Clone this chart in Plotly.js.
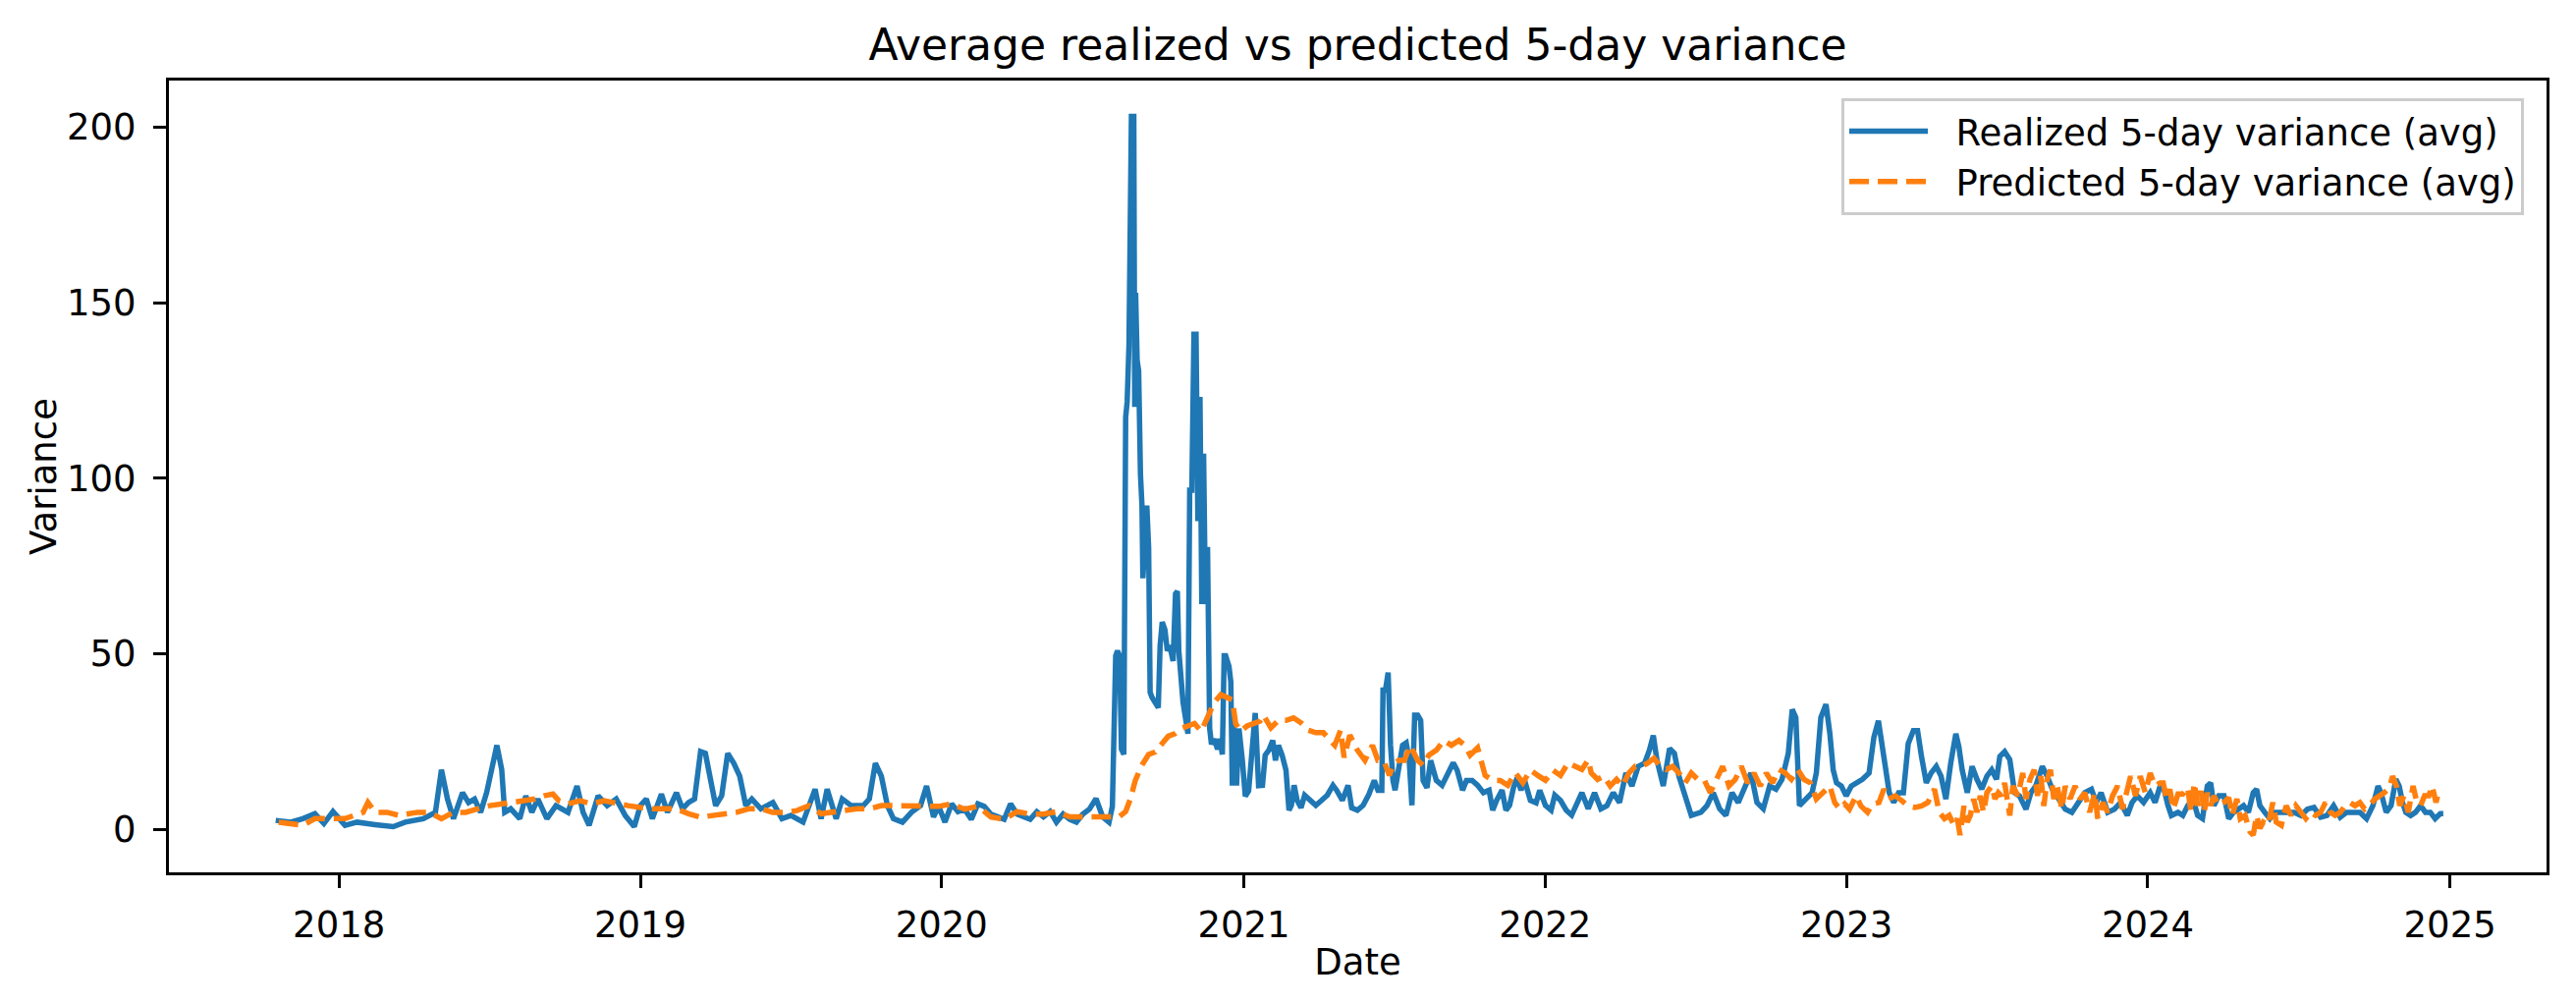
<!DOCTYPE html>
<html>
<head>
<meta charset="utf-8">
<script src="https://cdn.plot.ly/plotly-3.0.1.min.js"></script>
<style>
  html, body { margin: 0; padding: 0; background: #ffffff; }
  #chart { width: 2623px; height: 1021px; }
</style>
</head>
<body>
<div id="chart"></div>
<script>
let realizedYear = [
  2017.790, 2017.84, 2017.88, 2017.92, 2017.95, 2017.98, 2018.02, 2018.06, 2018.12, 2018.18,
  2018.22, 2018.28, 2018.32, 2018.34, 2018.36, 2018.38, 2018.41, 2018.43, 2018.45, 2018.47,
  2018.49, 2018.51, 2018.524, 2018.54, 2018.55, 2018.57, 2018.60, 2018.62, 2018.64, 2018.66,
  2018.69, 2018.72, 2018.76, 2018.79, 2018.81, 2018.83, 2018.86, 2018.89, 2018.92, 2018.95,
  2018.98, 2019.00, 2019.02, 2019.04, 2019.07, 2019.09, 2019.12, 2019.14, 2019.16, 2019.18,
  2019.20, 2019.216, 2019.23, 2019.25, 2019.27, 2019.29, 2019.31, 2019.33, 2019.35, 2019.37,
  2019.40, 2019.44, 2019.47, 2019.50, 2019.54, 2019.58, 2019.60, 2019.62, 2019.65, 2019.67,
  2019.70, 2019.74, 2019.76, 2019.78, 2019.80, 2019.82, 2019.84, 2019.87, 2019.90, 2019.93,
  2019.95, 2019.973, 2019.99, 2020.011, 2020.033, 2020.054, 2020.076, 2020.098, 2020.120, 2020.141,
  2020.163, 2020.185, 2020.207, 2020.228, 2020.250, 2020.272, 2020.293, 2020.315, 2020.337, 2020.359,
  2020.380, 2020.402, 2020.424, 2020.446, 2020.467, 2020.489, 2020.511, 2020.533, 2020.554, 2020.565,
  2020.571, 2020.576, 2020.582, 2020.589, 2020.595, 2020.603, 2020.609, 2020.614, 2020.620, 2020.625,
  2020.628, 2020.636, 2020.639, 2020.642, 2020.647, 2020.652, 2020.658, 2020.663, 2020.666, 2020.672,
  2020.679, 2020.685, 2020.690, 2020.696, 2020.707, 2020.717, 2020.723, 2020.730, 2020.739, 2020.747,
  2020.755, 2020.766, 2020.774, 2020.780, 2020.785, 2020.791, 2020.799, 2020.810, 2020.815, 2020.821,
  2020.828, 2020.835, 2020.842, 2020.848, 2020.855, 2020.861, 2020.867, 2020.873, 2020.880, 2020.887,
  2020.893, 2020.902, 2020.913, 2020.921, 2020.929, 2020.935, 2020.940, 2020.951, 2020.957, 2020.962,
  2020.967, 2020.976, 2020.984, 2020.995, 2021.005, 2021.016, 2021.027, 2021.038, 2021.049, 2021.062,
  2021.071, 2021.083, 2021.096, 2021.105, 2021.115, 2021.127, 2021.140, 2021.150, 2021.158, 2021.167,
  2021.177, 2021.190, 2021.202, 2021.221, 2021.239, 2021.258, 2021.277, 2021.296, 2021.308, 2021.327,
  2021.346, 2021.358, 2021.377, 2021.396, 2021.414, 2021.433, 2021.445, 2021.458, 2021.462, 2021.470,
  2021.479, 2021.487, 2021.495, 2021.502, 2021.514, 2021.527, 2021.539, 2021.549, 2021.558, 2021.567,
  2021.577, 2021.587, 2021.595, 2021.608, 2021.620, 2021.639, 2021.658, 2021.677, 2021.695, 2021.708,
  2021.726, 2021.739, 2021.758, 2021.776, 2021.795, 2021.814, 2021.826, 2021.839, 2021.857, 2021.870,
  2021.882, 2021.895, 2021.907, 2021.920, 2021.932, 2021.951, 2021.970, 2021.982, 2022.001, 2022.020,
  2022.032, 2022.051, 2022.070, 2022.088, 2022.122, 2022.143, 2022.164, 2022.185, 2022.205, 2022.226,
  2022.247, 2022.268, 2022.288, 2022.309, 2022.330, 2022.346, 2022.359, 2022.371, 2022.392, 2022.413,
  2022.429, 2022.444, 2022.465, 2022.485, 2022.517, 2022.537, 2022.558, 2022.579, 2022.600, 2022.620,
  2022.641, 2022.662, 2022.683, 2022.703, 2022.724, 2022.745, 2022.766, 2022.786, 2022.807, 2022.820,
  2022.832, 2022.844, 2022.865, 2022.886, 2022.900, 2022.915, 2022.932,
  2022.945, 2022.956, 2022.967, 2022.983, 2022.999, 2023.016, 2023.032, 2023.053, 2023.075, 2023.091,
  2023.106, 2023.116, 2023.129, 2023.142, 2023.157, 2023.173, 2023.189, 2023.205, 2023.222, 2023.236,
  2023.249, 2023.265, 2023.281, 2023.298, 2023.314, 2023.330, 2023.346, 2023.363, 2023.373, 2023.384,
  2023.401, 2023.417, 2023.433, 2023.449, 2023.466, 2023.482, 2023.498, 2023.509, 2023.525, 2023.542,
  2023.558, 2023.574, 2023.596, 2023.612, 2023.628, 2023.650, 2023.666, 2023.683, 2023.704, 2023.726,
  2023.748, 2023.769, 2023.791, 2023.813, 2023.829, 2023.845, 2023.867, 2023.889, 2023.910, 2023.932,
  2023.948, 2023.965, 2023.986, 2024.008, 2024.024, 2024.041,
  2024.051, 2024.067, 2024.078, 2024.100, 2024.116, 2024.132, 2024.149, 2024.165, 2024.181, 2024.197,
  2024.208, 2024.219, 2024.235, 2024.252, 2024.268, 2024.284, 2024.300, 2024.317, 2024.333, 2024.349,
  2024.360, 2024.371, 2024.387, 2024.404, 2024.420, 2024.442, 2024.463, 2024.485, 2024.507, 2024.528,
  2024.550, 2024.572, 2024.593, 2024.615, 2024.637, 2024.658, 2024.680, 2024.702, 2024.724, 2024.745,
  2024.762, 2024.772, 2024.789, 2024.805, 2024.821, 2024.832, 2024.843, 2024.854, 2024.870, 2024.886,
  2024.903, 2024.919, 2024.935, 2024.951, 2024.968, 2024.978
];
let realizedValue = [
  2.5, 2.0, 3.0, 4.4, 1.6, 5.0, 1.1, 2.0, 1.3, 0.7,
  2.0, 3.0, 4.8, 16.9, 8.6, 3.0, 10.4, 7.6, 8.6, 4.8,
  10.4, 17.9, 23.9, 17.0, 4.8, 5.8, 3.0, 9.5, 4.8, 8.6,
  3.0, 6.7, 4.8, 12.3, 4.8, 1.1, 9.5, 6.7, 8.6, 3.9,
  0.7, 6.7, 8.6, 3.0, 10.0, 4.8, 10.4, 5.8, 7.6, 8.6,
  22.1, 21.6, 15.1, 6.7, 9.5, 21.6, 18.8, 15.1, 6.7, 8.6,
  5.8, 7.6, 3.0, 3.9, 2.0, 11.4, 3.0, 11.4, 3.0, 8.6,
  6.7, 6.7, 8.6, 18.8, 15.1, 6.7, 3.0, 2.0, 4.8, 6.7,
  12.3, 3.5, 6.5, 2.0, 7.2, 5.0, 5.7, 2.8, 7.2, 6.5,
  4.3, 3.5, 2.8, 7.2, 4.3, 3.5, 2.8, 5.0, 3.5, 5.0,
  2.0, 4.3, 2.8, 2.0, 4.3, 5.7, 8.7, 3.5, 2.0, 6.5,
  36.1, 49.4, 50.8, 49.4, 22.8, 21.3, 117.3, 121.8, 138.0, 170.6,
  203.1, 203.1, 120.3, 152.8, 133.6, 130.6, 101.1, 92.2, 71.5, 81.9,
  92.2, 80.4, 39.0, 37.6, 36.1, 34.6, 52.3, 59.0, 56.8, 50.8,
  52.3, 47.9, 67.1, 67.8, 50.8, 43.4, 36.1, 30.1, 27.2, 96.6,
  96.6, 141.0, 141.0, 87.8, 123.2, 64.1, 107.0, 64.1, 80.4, 28.7,
  24.2, 25.7, 22.8, 25.7, 21.3, 49.4, 49.4, 46.4, 42.0, 12.4,
  31.6, 12.4, 28.7, 19.8, 9.4, 10.9, 21.3, 33.1, 12.4, 12.5,
  21.1, 22.5, 25.3, 19.6, 23.9, 21.1, 16.8, 5.4, 6.8, 12.5,
  8.2, 6.1, 9.7, 8.2, 6.8, 8.2, 9.7, 12.5, 11.1, 8.2,
  12.5, 6.1, 5.4, 6.8, 9.7, 13.9, 11.1, 11.1, 39.6, 39.6,
  44.6, 23.9, 13.9, 11.1, 18.2, 23.9, 24.6, 19.6, 6.8, 32.5,
  32.5, 31.0, 13.9, 11.8, 19.6, 13.9, 12.5, 15.4, 18.9, 16.8,
  11.1, 13.9, 13.9, 12.5, 10.4, 11.1, 5.4, 8.2, 11.1, 5.4,
  6.8, 11.8, 14.6, 11.1, 13.9, 8.2, 7.5, 11.1, 6.8, 5.4,
  9.7, 8.2, 5.4, 4.0, 10.4, 5.8, 10.4, 5.8, 6.7, 10.4,
  7.6, 16.0, 12.3, 17.9, 18.8, 22.5, 26.7, 19.7, 12.3, 23.0,
  21.6, 15.1, 9.5, 3.9, 4.8, 6.7, 10.4, 5.8, 3.9, 10.4,
  7.6, 12.3, 16.0, 7.6, 5.8, 12.3, 11.4, 14.2, 21.6, 34.1,
  31.8, 6.7, 8.6, 10.4, 16.0, 31.8, 35.6,
  27.2, 16.9, 13.2, 12.3, 9.5, 12.3, 13.2, 14.2, 16.0, 26.2,
  30.9, 24.4, 17.9, 10.4, 7.6, 10.4, 10.4, 24.4, 28.1, 28.1,
  20.7, 13.2, 16.0, 17.9, 15.1, 8.6, 18.8, 27.2, 23.5, 16.9,
  10.4, 17.9, 14.2, 11.4, 15.1, 16.9, 14.2, 20.7, 22.1, 19.8,
  10.4, 9.5, 5.7, 10.4, 12.3, 17.9, 15.1, 11.4, 8.6, 5.7,
  4.8, 7.6, 10.4, 11.4, 7.6, 10.4, 4.8, 5.7, 7.6, 3.9,
  7.6, 9.5, 7.6, 10.4, 7.6, 12.3,
  12.3, 6.7, 3.9, 4.8, 3.9, 6.7, 8.6, 3.9, 3.0, 12.3,
  13.2, 6.7, 9.5, 9.5, 3.0, 4.8, 5.7, 6.7, 4.8, 10.4,
  11.4, 6.7, 4.8, 3.0, 4.8, 4.8, 4.8, 4.8, 3.9, 5.7,
  6.2, 3.4, 3.9, 6.7, 3.4, 4.8, 4.8, 4.8, 3.0, 6.7,
  12.3, 10.4, 4.8, 6.7, 14.2, 12.3, 7.6, 4.8, 3.9, 4.8,
  6.7, 4.8, 4.8, 3.0, 4.4, 4.4
];

let predictedYear = [
  2017.80, 2017.84, 2017.88, 2017.92, 2017.96, 2018.02, 2018.08, 2018.096, 2018.12, 2018.16,
  2018.20, 2018.26, 2018.30, 2018.34, 2018.38, 2018.42, 2018.46, 2018.50, 2018.54, 2018.58,
  2018.62, 2018.65, 2018.68, 2018.71, 2018.73, 2018.76, 2018.80, 2018.84, 2018.88, 2018.92,
  2018.96, 2019.00, 2019.04, 2019.08, 2019.12, 2019.16, 2019.20, 2019.24, 2019.28, 2019.32,
  2019.36, 2019.40, 2019.44, 2019.48, 2019.52, 2019.56, 2019.60, 2019.64, 2019.68, 2019.72,
  2019.76, 2019.80, 2019.84, 2019.88, 2019.92, 2019.99, 2020.033, 2020.076, 2020.120, 2020.163,
  2020.207, 2020.250, 2020.293, 2020.337, 2020.380, 2020.424, 2020.467, 2020.511, 2020.554, 2020.587,
  2020.609, 2020.625, 2020.641, 2020.663, 2020.685, 2020.707, 2020.728, 2020.750, 2020.772, 2020.793,
  2020.815, 2020.837, 2020.859, 2020.880, 2020.902, 2020.924, 2020.946, 2020.962, 2020.973, 2020.989,
  2021.011, 2021.033, 2021.054, 2021.065, 2021.090, 2021.115, 2021.140, 2021.165, 2021.190, 2021.214,
  2021.239, 2021.264, 2021.289, 2021.302, 2021.321, 2021.333, 2021.352, 2021.377, 2021.402, 2021.427,
  2021.445, 2021.464, 2021.483, 2021.495, 2021.514, 2021.533, 2021.552, 2021.577, 2021.595, 2021.614,
  2021.639, 2021.664, 2021.689, 2021.714, 2021.733, 2021.751, 2021.776, 2021.801, 2021.826, 2021.851,
  2021.876, 2021.901, 2021.926, 2021.951, 2021.976, 2022.001, 2022.026, 2022.051, 2022.076, 2022.122,
  2022.143, 2022.153, 2022.174, 2022.195, 2022.216, 2022.237, 2022.257, 2022.278, 2022.299, 2022.320,
  2022.340, 2022.361, 2022.382, 2022.402, 2022.423, 2022.444, 2022.465, 2022.485, 2022.506, 2022.527,
  2022.548, 2022.568, 2022.589, 2022.610, 2022.631, 2022.651, 2022.672, 2022.693, 2022.714, 2022.734,
  2022.755, 2022.776, 2022.797, 2022.817, 2022.838, 2022.859, 2022.880, 2022.900, 2022.921,
  2022.945, 2022.961, 2022.978, 2022.994, 2023.010, 2023.032, 2023.048, 2023.070, 2023.086, 2023.108,
  2023.124, 2023.140, 2023.162, 2023.184, 2023.205, 2023.227, 2023.249, 2023.270, 2023.292, 2023.308,
  2023.325, 2023.341, 2023.357, 2023.368, 2023.377, 2023.390, 2023.401, 2023.411, 2023.422, 2023.433,
  2023.444, 2023.455, 2023.466, 2023.482, 2023.493, 2023.504, 2023.514, 2023.525, 2023.542, 2023.552,
  2023.569, 2023.585, 2023.596, 2023.609, 2023.623, 2023.634, 2023.645, 2023.655, 2023.666, 2023.677,
  2023.688, 2023.699, 2023.715, 2023.726, 2023.742, 2023.759, 2023.775, 2023.791, 2023.807, 2023.824,
  2023.834, 2023.851, 2023.867, 2023.883, 2023.900, 2023.916, 2023.932, 2023.943, 2023.959, 2023.975,
  2023.992, 2024.008, 2024.024, 2024.041,
  2024.051, 2024.062, 2024.073, 2024.084, 2024.100, 2024.116, 2024.132, 2024.143, 2024.154, 2024.165,
  2024.176, 2024.187, 2024.197, 2024.208, 2024.219, 2024.235, 2024.252, 2024.268, 2024.279, 2024.295,
  2024.306, 2024.322, 2024.338, 2024.349, 2024.360, 2024.371, 2024.382, 2024.398, 2024.414, 2024.425,
  2024.442, 2024.458, 2024.474, 2024.490, 2024.507, 2024.523, 2024.539, 2024.555, 2024.572, 2024.588,
  2024.604, 2024.620, 2024.637, 2024.653, 2024.669, 2024.686, 2024.702, 2024.718, 2024.734, 2024.751,
  2024.767, 2024.783, 2024.800, 2024.810, 2024.823, 2024.834, 2024.848, 2024.862, 2024.878, 2024.888,
  2024.903, 2024.916, 2024.930, 2024.941, 2024.954, 2024.964
];
let predictedValue = [
  2.0, 1.5, 1.1, 3.0, 3.0, 3.0, 4.8, 7.6, 4.8, 4.8,
  3.9, 4.8, 4.8, 3.0, 4.8, 4.8, 5.8, 6.7, 7.2, 7.6,
  8.1, 8.6, 9.5, 10.0, 8.1, 7.2, 8.1, 7.2, 8.1, 7.2,
  6.7, 6.2, 5.8, 5.8, 5.8, 4.4, 3.4, 3.9, 4.4, 4.8,
  5.8, 5.8, 4.8, 4.8, 5.3, 6.7, 4.4, 4.8, 5.3, 5.8,
  5.8, 6.7, 6.7, 6.7, 6.7, 6.5, 7.2, 5.7, 6.5, 3.5,
  2.8, 5.0, 4.3, 4.3, 5.0, 3.5, 3.5, 3.5, 3.5, 3.5,
  5.0, 8.7, 13.9, 18.3, 21.3, 22.0, 24.2, 26.5, 27.2, 28.7,
  29.4, 30.1, 27.9, 31.6, 36.1, 38.3, 37.6, 36.8, 30.1, 27.9,
  29.4, 30.1, 30.8, 32.5, 28.9, 31.0, 31.0, 31.7, 30.3, 28.2,
  27.5, 27.5, 25.3, 23.9, 28.2, 20.4, 26.8, 22.5, 19.6, 23.9,
  19.6, 19.6, 15.3, 18.2, 19.6, 19.6, 23.9, 19.6, 18.2, 21.1,
  22.5, 25.3, 23.9, 25.3, 23.9, 21.1, 23.2, 15.3, 13.9, 13.9,
  12.5, 16.1, 13.2, 16.8, 15.3, 13.9, 16.8, 15.3, 18.9, 17.0,
  19.7, 16.0, 14.2, 15.1, 12.3, 14.2, 12.3, 16.0, 17.9, 17.9,
  18.8, 20.2, 17.9, 17.0, 17.9, 16.0, 13.2, 16.0, 14.2, 14.2,
  10.4, 14.2, 17.9, 12.3, 14.2, 17.9, 13.2, 16.0, 12.3, 16.0,
  13.2, 17.0, 16.0, 14.2, 17.0, 14.2, 13.2, 8.6, 10.4,
  12.3, 7.6, 5.7, 7.2, 5.7, 9.5, 6.6, 4.8, 7.2, 7.6,
  11.4, 8.6, 9.5, 8.1, 6.6, 6.2, 6.6, 7.6, 11.4, 4.8,
  3.0, 3.9, 1.1, 3.0, -1.7, 6.6, 2.0, 3.9, 8.6, 4.8,
  9.5, 4.8, 10.4, 12.3, 8.6, 10.4, 9.5, 13.2, 3.9, 12.3,
  9.5, 16.0, 8.6, 14.2, 16.9, 9.5, 15.1, 6.6, 14.2, 16.9,
  8.6, 12.3, 5.7, 12.3, 8.6, 12.3, 8.6, 10.4, 4.8, 10.4,
  3.0, 7.6, 4.8, 9.5, 12.3, 5.7, 12.3, 15.1, 9.5, 15.1,
  10.4, 16.0, 12.3, 13.2,
  13.2, 8.6, 11.4, 5.7, 10.0, 10.0, 11.9, 4.8, 13.2, 6.7,
  10.9, 4.8, 10.4, 6.7, 9.5, 6.7, 7.6, 9.0, 3.9, 8.6,
  3.0, 3.9, -0.7, -1.7, 3.9, 0.2, 2.0, 1.1, 7.6, 2.0,
  1.1, 6.7, 3.9, 6.7, 4.8, 3.0, 4.8, 3.9, 4.8, 7.6,
  4.8, 3.9, 4.8, 6.7, 7.6, 6.7, 7.6, 5.7, 6.7, 8.6,
  9.5, 10.4, 11.9, 15.1, 12.3, 6.7, 9.5, 4.8, 12.3, 8.6,
  6.7, 9.5, 9.5, 12.3, 7.6, 11.4
];

let yearTicks = [2018, 2019, 2020, 2021, 2022, 2023, 2024, 2025];
let varianceTicks = [0, 50, 100, 150, 200];

// decimal year -> date string for plotly's date axis
function yearToDate(y) {
    let yr = Math.floor(y);
    let start = Date.UTC(yr, 0, 1);
    let end = Date.UTC(yr + 1, 0, 1);
    let d = new Date(start + (y - yr) * (end - start));
    return d.toISOString().slice(0, 19).replace('T', ' ');
}

let font = 'DejaVu Sans, Liberation Sans, sans-serif';
let pad = '\u00a0\u00a0';

let trace1 = {
    type: 'scatter',
    mode: 'lines',
    name: pad + 'Realized 5-day variance (avg)',
    x: realizedYear.map(yearToDate),
    y: realizedValue,
    line: { color: '#1f77b4', width: 5.5 },
};

let trace2 = {
    type: 'scatter',
    mode: 'lines',
    name: pad + 'Predicted 5-day variance (avg)',
    x: predictedYear.map(yearToDate),
    y: predictedValue,
    line: { color: '#ff7f0e', width: 5.5, dash: '20px,9px' },
};

let axisStyle = {
    showline: true,
    mirror: true,
    linecolor: '#000000',
    linewidth: 3,
    showgrid: false,
    zeroline: false,
    ticks: 'outside',
    ticklen: 13,
    tickwidth: 3,
    tickcolor: '#000000',
    tickfont: { family: font, size: 37, color: '#000000' },
};

let layout = {
    width: 2623,
    height: 1021,
    paper_bgcolor: '#ffffff',
    plot_bgcolor: '#ffffff',
    margin: { l: 172, r: 30, t: 82, b: 133 },
    title: {
        text: 'Average realized vs predicted 5-day variance',
        font: { family: font, size: 44, color: '#000000' },
        x: (172 + 2593) / 2 / 2623,
        xanchor: 'center',
        y: 1 - 46 / 1021,
        yanchor: 'middle',
    },
    xaxis: Object.assign({}, axisStyle, {
        type: 'date',
        range: ['2017-06-09', '2025-04-28'],
        tickvals: yearTicks.map(y => y + '-01-01'),
        ticktext: yearTicks.map(String),
        ticklabelstandoff: 6,
        title: { text: 'Date', font: { family: font, size: 37, color: '#000000' }, standoff: 4 },
    }),
    yaxis: Object.assign({}, axisStyle, {
        range: [-12.3, 213.3],
        tickvals: varianceTicks,
        ticktext: varianceTicks.map(String),
        ticklabelstandoff: 10,
        title: { text: 'Variance', font: { family: font, size: 37, color: '#000000' }, standoff: 0 },
    }),
    showlegend: true,
    legend: {
        x: (2570 - 172) / 2421,
        xanchor: 'right',
        y: 1 - (100 - 82) / 806,
        yanchor: 'top',
        bgcolor: 'rgba(255,255,255,0.8)',
        bordercolor: '#cccccc',
        borderwidth: 3,
        font: { family: font, size: 37, color: '#000000' },
        itemwidth: 80,
        tracegroupgap: 0,
    },
};

Plotly.newPlot(document.getElementById('chart'), [trace1, trace2], layout, { staticPlot: true });
</script>
</body>
</html>
